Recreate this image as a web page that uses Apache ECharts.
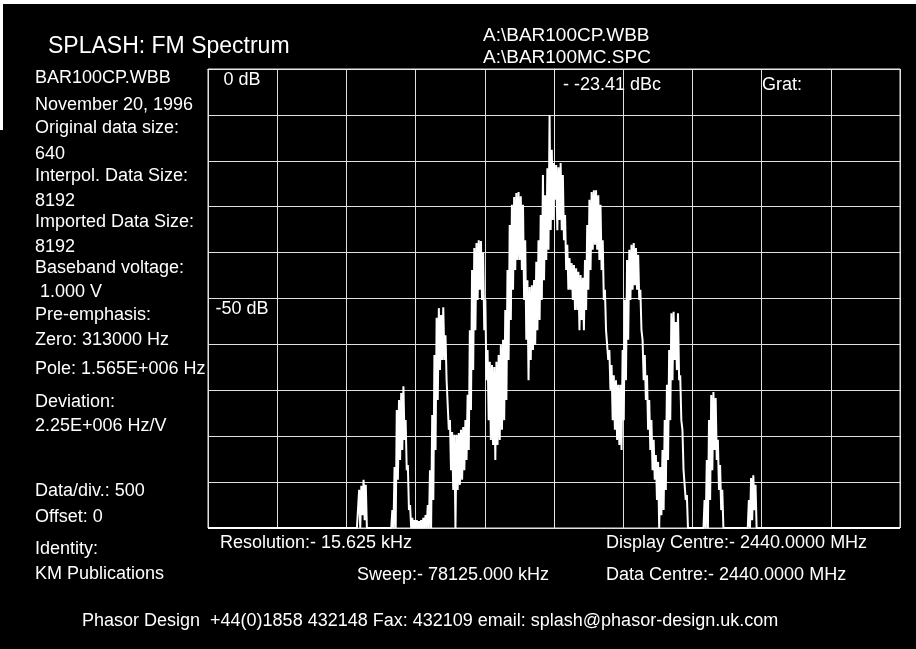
<!DOCTYPE html>
<html><head><meta charset="utf-8">
<script src="https://cdn.jsdelivr.net/npm/echarts@6/dist/echarts.min.js"></script>
<style>html,body{margin:0;padding:0;background:#000;}#c{width:916px;height:649px;}</style>
</head><body><div id="c"></div>
<script>
// ---- axes (frequency offset from centre in MHz, level in dB) ----
const sweepHalfMHz = 39.0625;
const divMHz = 7.8125;
const dbMin = -100, dbMax = 0, dbDiv = 10;
const dbLabels = { '0': '0 dB', '-50': '-50 dB' };

// ---- trace: sample grid and upper / lower envelope (dB) ----
const traceStartMHz = -22.5;
const traceStepMHz = 0.25;
const upperDb = [
  -100,-100,-91.7,-90.8,-89.5,-90.6,-100,-100,-100,-100,
  -100,-100,-100,-100,-100,-100,-100,-96.1,-86.7,-74.3,
  -72.1,-70.6,-69.1,-76.5,-86.3,-95.0,-97.8,-98.3,-98.3,-98.5,
  -98.3,-97.8,-97.2,-95.0,-87.4,-75.4,-62.3,-54.2,-52.1,-53.6,
  -51.9,-58.0,-67.8,-76.5,-79.1,-79.7,-79.7,-79.3,-78.6,-78.0,
  -76.5,-71.0,-56.9,-43.8,-39.0,-37.9,-37.3,-37.5,-40.1,-50.3,
  -61.2,-63.8,-64.5,-64.9,-63.8,-62.3,-60.1,-59.0,-52.5,-43.8,
  -34.0,-29.6,-27.9,-27.0,-26.8,-27.7,-29.6,-37.3,-46.0,-47.5,
  -47.1,-46.0,-42.0,-37.3,-31.8,-23.1,-27.5,-21.6,-10.0,-17.6,
  -20.5,-20.9,-21.4,-20.5,-23.1,-31.8,-38.3,-41.2,-42.3,-42.7,
  -43.4,-44.2,-44.9,-45.5,-41.6,-34.0,-28.5,-26.8,-26.4,-26.4,
  -27.5,-29.6,-37.3,-48.1,-56.9,-61.2,-64.5,-66.7,-67.8,-68.8,
  -68.8,-61.2,-50.3,-41.6,-39.4,-38.3,-37.9,-39.0,-40.5,-48.1,
  -59.0,-62.3,-66.7,-72.1,-76.5,-80.8,-84.1,-85.6,-86.7,-83.0,
  -76.5,-68.8,-61.2,-53.2,-52.9,-55.1,-53.2,-66.7,-78.6,-87.4,
  -92.8,-100,-100,-100,-100,-100,-100,-100,-93.9,-85.2,
  -76.5,-71.0,-70.4,-71.7,-80.8,-86.3,-91.7,-100,-100,-100,
  -100,-100,-100,-100,-100,-100,-100,-100,-93.9,-89.1,
  -88.5,-90.6,-100,-100,-100,-100
];
const lowerDb = [
  -100,-100,-100,-97.2,-98.3,-100,-100,-100,-100,-100,
  -100,-100,-100,-100,-100,-100,-100,-100,-100,-89.5,
  -85.2,-83.0,-80.8,-87.4,-96.1,-100,-100,-100,-100,-100,
  -100,-100,-100,-100,-100,-93.9,-83.0,-72.1,-65.6,-63.4,
  -63.4,-67.8,-78.6,-87.4,-91.7,-100,-91.7,-90.6,-89.5,-87.4,
  -85.2,-83.0,-74.3,-65.6,-56.9,-50.3,-48.1,-50.3,-56.9,-67.8,
  -76.5,-80.8,-81.9,-85.2,-81.9,-80.8,-78.6,-76.5,-72.1,-63.4,
  -54.7,-48.1,-43.8,-41.6,-41.6,-43.8,-50.3,-59.0,-67.8,-63.4,
  -61.2,-60.1,-56.9,-54.7,-50.3,-46.0,-41.6,-39.4,-35.1,-32.9,
  -28.5,-35.1,-32.9,-35.1,-37.3,-43.8,-48.1,-48.1,-50.3,-52.5,
  -52.5,-56.9,-54.7,-56.9,-52.5,-48.1,-43.8,-39.4,-38.3,-39.4,
  -41.6,-43.8,-50.3,-56.9,-63.4,-69.9,-76.5,-78.6,-80.8,-81.9,
  -83.0,-76.5,-67.8,-59.0,-50.3,-48.1,-47.1,-48.1,-50.3,-56.9,
  -67.8,-72.1,-78.6,-83.0,-87.4,-89.5,-93.9,-100,-97.2,-96.1,
  -91.7,-85.2,-76.5,-67.8,-63.4,-65.6,-67.8,-76.5,-87.4,-93.9,
  -100,-100,-100,-100,-100,-100,-100,-100,-100,-100,
  -93.9,-87.4,-83.0,-85.2,-91.7,-96.1,-100,-100,-100,-100,
  -100,-100,-100,-100,-100,-100,-100,-100,-100,-98.3,
  -96.1,-100,-100,-100,-100,-100
];

// ---- text ----
const titleText = 'SPLASH: FM Spectrum';
const fileLines = ['A:\\BAR100CP.WBB', 'A:\\BAR100MC.SPC'];
const infoLines = ['BAR100CP.WBB','November 20, 1996','Original data size:','640','Interpol. Data Size:','8192',
  'Imported Data Size:','8192','Baseband voltage:',' 1.000 V','Pre-emphasis:','Zero: 313000 Hz',
  'Pole: 1.565E+006 Hz','Deviation:','2.25E+006 Hz/V','Data/div.: 500','Offset: 0','Identity:','KM Publications'];
const markerText = '- -23.41 dBc';
const gratText = 'Grat:';
const footerTexts = ['Resolution:- 15.625 kHz','Display Centre:- 2440.0000 MHz','Sweep:- 78125.000 kHz','Data Centre:- 2440.0000 MHz'];
const contactText = 'Phasor Design  +44(0)1858 432148 Fax: 432109 email: splash@phasor-design.uk.com';

const FONT = '"Liberation Sans", Arial, Helvetica, sans-serif';
const traceData = [[-sweepHalfMHz, dbMin]];
for (let i = 0; i < upperDb.length; i++) {
  const f = traceStartMHz + i * traceStepMHz;
  traceData.push([f, upperDb[i]]);
  traceData.push([f + traceStepMHz / 2, lowerDb[i]]);
}
traceData.push([sweepHalfMHz, dbMin]);

function txt(t, x, y, size, extra) {
  return Object.assign({ type: 'text', x: x, y: y, silent: true,
    style: { text: t, fill: '#fff', font: size + 'px ' + FONT, textVerticalAlign: 'middle' } }, extra || {});
}
const infoY = [78,105,128,154,176,201,222,247,268,292,315,340,369,402,426,491,517,549,574];
const graphics = [
  { type: 'rect', shape: { x: 0, y: 0, width: 916, height: 4 }, style: { fill: '#fff' }, silent: true },
  { type: 'rect', shape: { x: 0, y: 0, width: 3, height: 130 }, style: { fill: '#fff' }, silent: true },
  txt(titleText, 48, 47, 23),
  txt(fileLines[0], 483, 36, 19),
  txt(fileLines[1], 483, 58, 19),
  txt(markerText, 563, 85, 18),
  txt(gratText, 762, 85, 18),
  txt(footerTexts[0], 220, 543, 18),
  txt(footerTexts[1], 606, 543, 18),
  txt(footerTexts[2], 357, 575, 18),
  txt(footerTexts[3], 606, 575, 18),
  txt(contactText, 82, 621, 18)
];
infoLines.forEach((t, k) => graphics.push(txt(t, 35, infoY[k], 18)));

const chart = echarts.init(document.getElementById('c'), null, { renderer: 'canvas' });
chart.setOption({
  backgroundColor: '#000',
  animation: false,
  grid: { left: 208, top: 69, width: 692, height: 459, show: true, borderColor: '#e8e8e8', borderWidth: 1, backgroundColor: 'transparent' },
  xAxis: {
    type: 'value', min: -sweepHalfMHz, max: sweepHalfMHz, interval: divMHz,
    axisLine: { show: true, lineStyle: { color: '#e8e8e8' } },
    axisTick: { show: false }, axisLabel: { show: false },
    splitLine: { show: true, lineStyle: { color: '#e0e0e0', width: 1 } }
  },
  yAxis: {
    type: 'value', min: dbMin, max: dbMax, interval: dbDiv,
    axisLine: { show: true, lineStyle: { color: '#e8e8e8' } },
    axisTick: { show: false },
    axisLabel: {
      inside: true, margin: 34, align: 'center', verticalAlign: 'top', padding: [2, 0, 0, 0],
      showMinLabel: true, showMaxLabel: true,
      color: '#fff', fontSize: 18, fontFamily: FONT,
      formatter: v => dbLabels[String(v)] || ''
    },
    splitLine: { show: true, lineStyle: { color: '#e0e0e0', width: 1 } }
  },
  series: [{
    type: 'line', data: traceData, showSymbol: false, silent: true,
    lineStyle: { color: '#fff', width: 2 }, z: 5
  }],
  graphic: graphics
});
</script></body></html>
